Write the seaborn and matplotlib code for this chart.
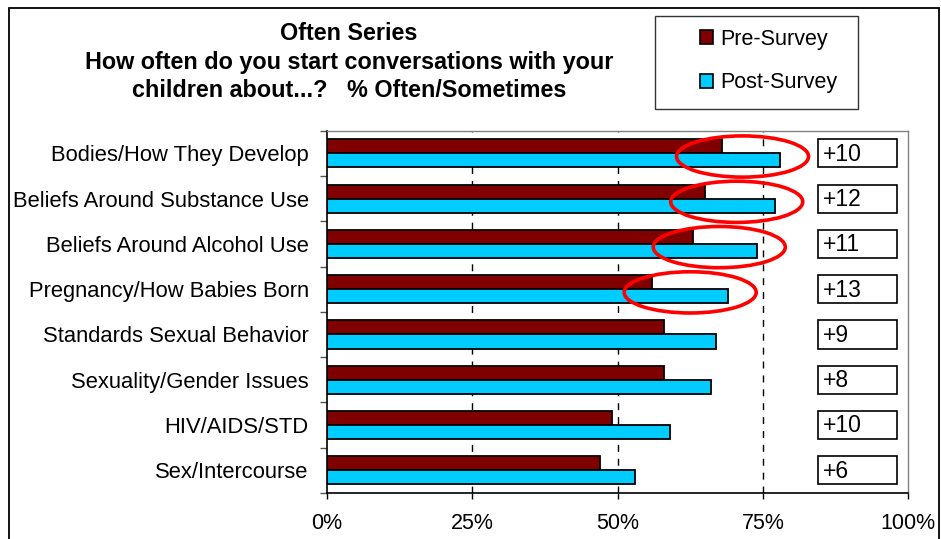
import matplotlib
matplotlib.use("Agg")
import matplotlib.pyplot as plt
from matplotlib.patches import Ellipse, Rectangle, Patch
import pandas as pd
import seaborn as sns

# Survey results: share answering "Often/Sometimes"
topics = [
    "Bodies/How They Develop",
    "Beliefs Around Substance Use",
    "Beliefs Around Alcohol Use",
    "Pregnancy/How Babies Born",
    "Standards Sexual Behavior",
    "Sexuality/Gender Issues",
    "HIV/AIDS/STD",
    "Sex/Intercourse",
]
pre_survey = [68, 65, 63, 56, 58, 58, 49, 47]
post_survey = [78, 77, 74, 69, 67, 66, 59, 53]
series_names = ["Pre-Survey", "Post-Survey"]
x_ticks = [0, 25, 50, 75, 100]
x_tick_labels = ["0%", "25%", "50%", "75%", "100%"]
n_highlighted = 4  # topics with the largest post-survey levels get circled

title_lines = [
    "Often Series",
    "How often do you start conversations with your",
    "children about...?   % Often/Sometimes",
]

PRE_COLOR = "#800000"
POST_COLOR = "#00CCFF"

sns.set_theme(style="white")
plt.rcParams["font.family"] = ["Liberation Sans", "DejaVu Sans"]
plt.rcParams["text.color"] = "black"
plt.rcParams["xtick.color"] = "black"
plt.rcParams["ytick.color"] = "black"

W, H = 941, 539
fig = plt.figure(figsize=(W / 100, H / 100), dpi=100)
ax = fig.add_axes([326.7 / W, 1 - 493 / H, (908.3 - 326.7) / W, (493 - 130.7) / H])

df = pd.DataFrame({
    "Topic": topics * 2,
    "Survey": [series_names[0]] * len(topics) + [series_names[1]] * len(topics),
    "Percent": pre_survey + post_survey,
})

sns.barplot(
    data=df, y="Topic", x="Percent", hue="Survey", hue_order=series_names,
    palette=[PRE_COLOR, POST_COLOR], saturation=1, orient="h", width=0.62,
    gap=0, edgecolor="black", linewidth=1.3, legend=False, ax=ax,
)

ax.set_xlim(0, 100)
ax.set_ylim(len(topics) - 0.5, -0.5)
ax.set_xlabel("")
ax.set_ylabel("")

# x axis: percent ticks with dashed guides
ax.set_xticks(x_ticks)
ax.set_xticklabels(x_tick_labels, fontsize=15.5)
ax.tick_params(axis="x", direction="out", length=4.5, width=1, color="black",
               labelcolor="black", pad=10, bottom=True)
for xv in x_ticks[1:-1]:
    ax.axvline(xv, color="black", lw=1, ls=(0, (5, 5)), zorder=0)

# y axis: labels at the centres, tick marks between categories
ax.set_yticks(range(len(topics)))
ax.set_yticklabels(topics, fontsize=15.8)
ax.tick_params(axis="y", which="major", length=0, pad=13, labelcolor="black")
ax.set_yticks([i - 0.5 for i in range(len(topics) + 1)], minor=True)
ax.tick_params(axis="y", which="minor", direction="out", length=5, width=1,
               color="#555555", left=True)

for side in ["left", "bottom"]:
    ax.spines[side].set_color("black")
    ax.spines[side].set_linewidth(1.2)
for side in ["top", "right"]:
    ax.spines[side].set_color("#808080")
    ax.spines[side].set_linewidth(1.0)

# change boxes on the right
for i, (a, b) in enumerate(zip(pre_survey, post_survey)):
    ax.add_patch(Rectangle((84.5, i - 0.31), 13.6, 0.62, facecolor="white",
                           edgecolor="black", lw=1.2, zorder=4))
    ax.text(85.3, i + 0.02, f"+{b - a}", fontsize=16.5, ha="left", va="center",
            color="black", zorder=5)

# red rings around the leading topics
for i in range(n_highlighted):
    ax.add_patch(Ellipse((post_survey[i] - 6.5, i + 0.07), 22.7, 0.91,
                         fill=False, edgecolor="#FF0000", lw=2.6, zorder=6))

# title
for line, yc in zip(title_lines, [34, 62, 91]):
    fig.text(349 / W, 1 - yc / H, line, ha="center", va="center",
             fontsize=16.8, fontweight="bold", color="black")

# legend with a plain rectangular frame
fig.add_artist(Rectangle((655 / W, 1 - 109 / H), (858 - 655) / W, (109 - 15.7) / H,
                         transform=fig.transFigure, facecolor="white",
                         edgecolor="#333333", lw=1.0))
handles = [Patch(facecolor=PRE_COLOR, edgecolor="black", lw=1.2),
           Patch(facecolor=POST_COLOR, edgecolor="black", lw=1.2)]
fig.legend(handles, series_names, loc="center left",
           bbox_to_anchor=(689 / W, 1 - 61 / H), frameon=False, borderpad=0,
           handlelength=0.62, handleheight=0.62, handletextpad=0.35,
           labelspacing=1.05, fontsize=15.5, labelcolor="black")

# outer chart frame
fig.add_artist(Rectangle((9 / W, -0.05), (939 - 9) / W, 1.05 - 8 / H,
                         transform=fig.transFigure, fill=False,
                         edgecolor="black", lw=1.3))

fig.savefig("out.png", dpi=100)
